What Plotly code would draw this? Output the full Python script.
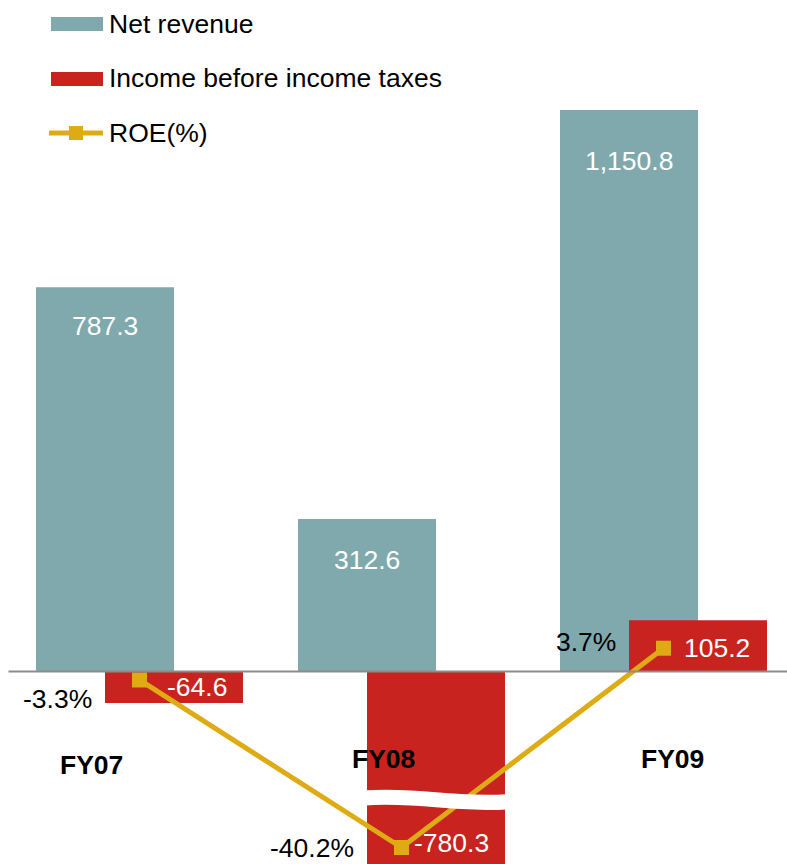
import plotly.graph_objects as go

# ---------------- data ----------------
categories = ["FY07", "FY08", "FY09"]
net_revenue = [787.3, 312.6, 1150.8]
income_before_tax = [-64.6, -780.3, 105.2]
roe_pct = [-3.3, -40.2, 3.7]
series_names = ["Net revenue", "Income before income taxes", "ROE(%)"]

# ---------------- style ----------------
W_PX, H_PX = 787, 864
FONT = "Liberation Sans, Arial, sans-serif"
TEAL = "#80A9AD"
RED = "#C9231F"
GOLD = "#DFAB15"
GRAY = "#8C8C8C"
FS = 26.5

CAT_PX = 262.0                      # pixel spacing between categories
BAR_W = 138 / CAT_PX
NET_OFF = -103.5 / CAT_PX
INC_OFF = -34.5 / CAT_PX
X_MIN = -0.5 - 8.5 / CAT_PX
X_MAX = X_MIN + W_PX / CAT_PX

Y_SCALE = 0.488                     # px per unit on primary axis
Y_ZERO_PX = 671.5
Y_RANGE = [-(H_PX - Y_ZERO_PX) / Y_SCALE, Y_ZERO_PX / Y_SCALE]
Y2_SCALE = 4.54
Y2_ZERO_PX = 665.0
Y2_RANGE = [-(H_PX - Y2_ZERO_PX) / Y2_SCALE, Y2_ZERO_PX / Y2_SCALE]

NET_LABEL_DROP = [39, 41, 51]
INC_LABEL_XSHIFT = [22.5, 15.6, 19]
INC_LABEL_YSHIFT = [0, 4.5, -2]
ROE_LABEL_XSHIFT = -46
ROE_LABEL_YSHIFT = [-19, 0, 6]
CAT_LABEL_XSHIFT = [-48.5, -18, 8.5]
CAT_LABEL_YSHIFT = [-93.5, -87, -87.5]

BREAK_TOP = -244
BREAK_GAP = 31

xpos = list(range(len(categories)))

fig = go.Figure()
fig.add_trace(go.Bar(
    x=xpos, y=net_revenue, name=series_names[0],
    width=BAR_W, offset=NET_OFF, marker=dict(color=TEAL, line=dict(width=0)),
    yaxis="y", showlegend=False,
))
fig.add_trace(go.Bar(
    x=xpos, y=income_before_tax, name=series_names[1],
    width=BAR_W, offset=INC_OFF, marker=dict(color=RED, line=dict(width=0)),
    yaxis="y", showlegend=False,
))
fig.add_trace(go.Scatter(
    x=xpos, y=roe_pct, name=series_names[2], mode="lines+markers",
    line=dict(color=GOLD, width=5),
    marker=dict(symbol="square", size=15, color=GOLD),
    yaxis="y2", showlegend=False,
))

ann = []
# net revenue labels
for i, v in enumerate(net_revenue):
    ann.append(dict(x=i + NET_OFF + BAR_W / 2, y=v, xref="x", yref="y",
                    text=f"{v:,.1f}", showarrow=False, yshift=-NET_LABEL_DROP[i],
                    font=dict(family=FONT, size=FS, color="white")))
# income labels
for i, v in enumerate(income_before_tax):
    broken = v < Y_RANGE[0]
    ann.append(dict(x=i + INC_OFF + BAR_W / 2,
                    y=roe_pct[i] if broken else v / 2,
                    xref="x", yref="y2" if broken else "y",
                    text=f"{v:,.1f}", showarrow=False,
                    xshift=INC_LABEL_XSHIFT[i], yshift=INC_LABEL_YSHIFT[i],
                    font=dict(family=FONT, size=FS, color="white")))
# ROE labels
for i, v in enumerate(roe_pct):
    ann.append(dict(x=i, y=v, xref="x", yref="y2", text=f"{v:.1f}%",
                    showarrow=False, xanchor="right",
                    xshift=ROE_LABEL_XSHIFT, yshift=ROE_LABEL_YSHIFT[i],
                    font=dict(family=FONT, size=FS, color="black")))
# category labels
for i, c in enumerate(categories):
    ann.append(dict(x=i, y=0, xref="x", yref="y", text=f"<b>{c}</b>",
                    showarrow=False, xshift=CAT_LABEL_XSHIFT[i],
                    yshift=CAT_LABEL_YSHIFT[i],
                    font=dict(family=FONT, size=FS, color="black")))

shapes = []
# zero line
shapes.append(dict(type="line", xref="x", yref="y", x0=-0.5, x1=X_MAX + 0.1,
                   y0=0, y1=0, line=dict(color=GRAY, width=2), layer="above"))
# axis break on truncated bars
for i, v in enumerate(income_before_tax):
    if v < Y_RANGE[0]:
        xl = i + INC_OFF - 0.02
        xr = i + INC_OFF + BAR_W + 0.02
        t0, t1 = BREAK_TOP, BREAK_TOP - 7
        b0, b1 = BREAK_TOP - BREAK_GAP, BREAK_TOP - 7 - BREAK_GAP
        path = (f"M {xl},{t0} C {xl + 0.2},{t0 + 8} {xr - 0.2},{t1 - 8} {xr},{t1} "
                f"L {xr},{b1} C {xr - 0.2},{b1 - 8} {xl + 0.2},{b0 + 8} {xl},{b0} Z")
        shapes.append(dict(type="path", xref="x", yref="y", path=path,
                           fillcolor="white", line=dict(width=0), layer="above"))

# custom legend (pixel positions -> paper)
def px(x):
    return x / W_PX

def py(y):
    return 1 - y / H_PX

legend_rows = [24, 78, 133]
shapes.append(dict(type="rect", xref="paper", yref="paper", x0=px(51), x1=px(103),
                   y0=py(31), y1=py(17), fillcolor=TEAL, line=dict(width=0)))
shapes.append(dict(type="rect", xref="paper", yref="paper", x0=px(51), x1=px(103),
                   y0=py(86), y1=py(72), fillcolor=RED, line=dict(width=0)))
shapes.append(dict(type="line", xref="paper", yref="paper", x0=px(49), x1=px(103),
                   y0=py(133), y1=py(133), line=dict(color=GOLD, width=5)))
shapes.append(dict(type="rect", xref="paper", yref="paper", x0=px(69), x1=px(83),
                   y0=py(140), y1=py(126), fillcolor=GOLD, line=dict(width=0)))
for name, yy in zip(series_names, legend_rows):
    ann.append(dict(x=px(107), y=py(yy), xref="paper", yref="paper", text=name,
                    showarrow=False, xanchor="left", yanchor="middle",
                    font=dict(family=FONT, size=FS, color="black")))

fig.update_layout(
    width=W_PX, height=H_PX,
    margin=dict(l=0, r=0, t=0, b=0, pad=0),
    paper_bgcolor="white", plot_bgcolor="white",
    barmode="overlay",
    showlegend=False,
    xaxis=dict(range=[X_MIN, X_MAX], visible=False, fixedrange=True),
    yaxis=dict(range=Y_RANGE, visible=False, fixedrange=True),
    yaxis2=dict(range=Y2_RANGE, overlaying="y", visible=False, fixedrange=True),
    annotations=ann,
    shapes=shapes,
    font=dict(family=FONT),
)

fig.write_html("out.html", post_script="document.body.style.margin='0';",
               config={"displayModeBar": False})
